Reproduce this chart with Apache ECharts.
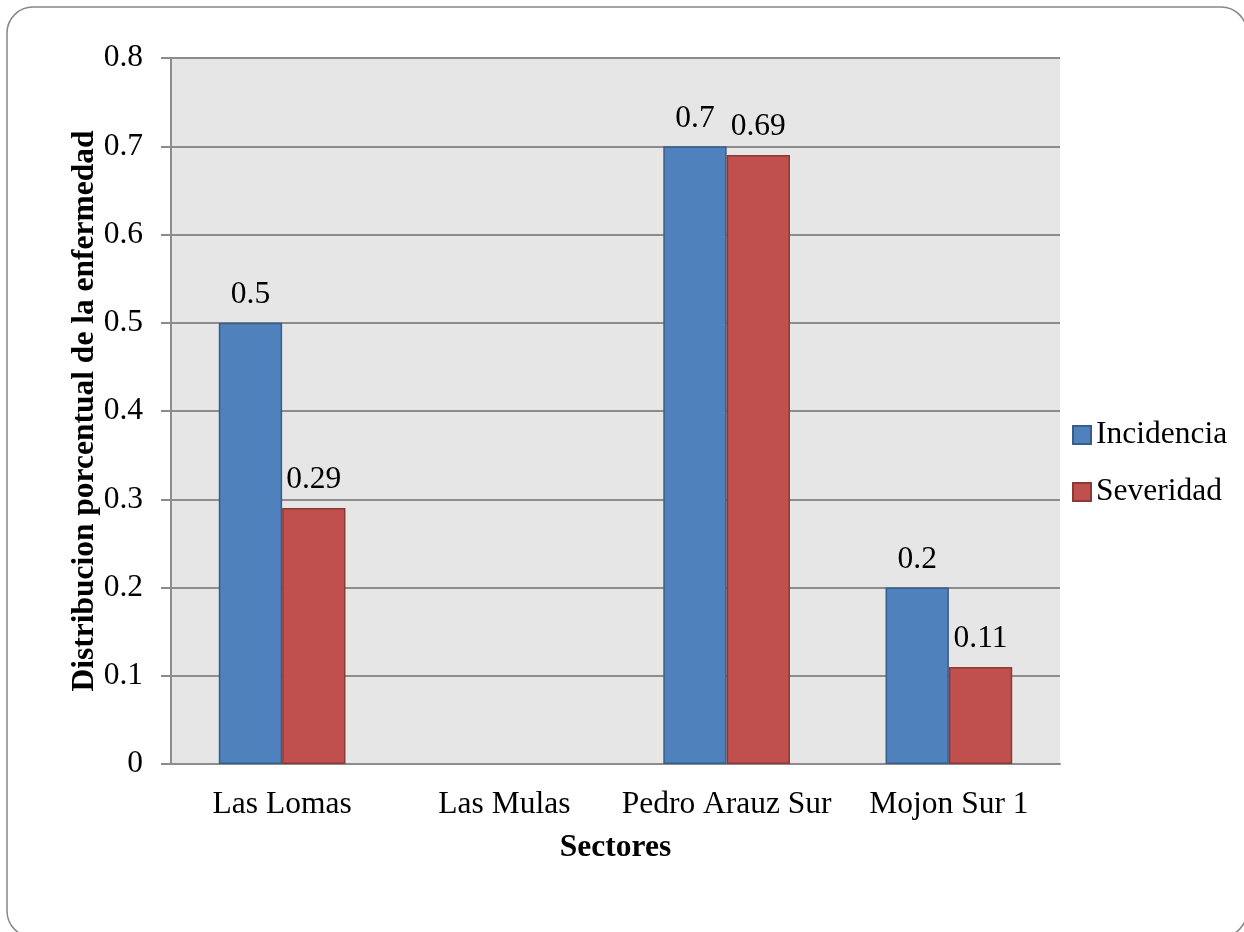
<!DOCTYPE html>
<html>
<head>
<meta charset="utf-8">
<script src="https://cdn.jsdelivr.net/npm/echarts@6/dist/echarts.min.js"></script>
<style>
  html, body { margin: 0; padding: 0; background: #ffffff; }
  #chart { width: 1244px; height: 932px; }
</style>
</head>
<body>
<div id="chart"></div>
<script>
// Sectors and disease distribution values
const sectores = ['Las Lomas', 'Las Mulas', 'Pedro Arauz Sur', 'Mojon Sur 1'];
const incidencia = [0.5, null, 0.7, 0.2];
const severidad = [0.29, null, 0.69, 0.11];
const yTicks = [0, 0.1, 0.2, 0.3, 0.4, 0.5, 0.6, 0.7, 0.8];

const FONT = '"Liberation Serif", "Times New Roman", serif';
const FS = 31.5;

const chart = echarts.init(document.getElementById('chart'), null, { renderer: 'canvas' });

const labelStyle = {
  show: true,
  position: 'top',
  distance: 12,
  color: '#000',
  fontFamily: FONT,
  fontSize: FS
};

chart.setOption({
  animation: false,
  backgroundColor: '#ffffff',
  graphic: [{
    type: 'rect',
    shape: { x: 7, y: 7, width: 1240, height: 930, r: 26 },
    style: { fill: 'none', stroke: '#888888', lineWidth: 1.5 },
    silent: true,
    z: -1
  }],
  grid: {
    left: 171, top: 58, right: 184, bottom: 168,
    show: true,
    backgroundColor: '#e6e6e6',
    borderWidth: 0
  },
  legend: {
    orient: 'vertical',
    left: 1067,
    top: 414,
    itemWidth: 18,
    itemHeight: 18,
    itemGap: 25,
    icon: 'rect',
    textStyle: { fontFamily: FONT, fontSize: FS, color: '#000' },
    data: ['Incidencia', 'Severidad']
  },
  xAxis: {
    type: 'category',
    data: sectores,
    name: 'Sectores',
    nameLocation: 'middle',
    nameGap: 68,
    nameMoveOverlap: false,
    nameTextStyle: { fontFamily: FONT, fontSize: FS, fontWeight: 'bold', color: '#000' },
    axisLine: { lineStyle: { color: '#8c8c8c', width: 2 } },
    axisTick: { show: false },
    axisLabel: { interval: 0, hideOverlap: false, fontFamily: FONT, fontSize: FS, color: '#000', margin: 25 }
  },
  yAxis: {
    type: 'value',
    min: 0,
    max: 0.8,
    interval: 0.1,
    name: 'Distribucion porcentual de la enfermedad',
    nameLocation: 'middle',
    nameGap: 70,
    nameMoveOverlap: false,
    nameTextStyle: { fontFamily: FONT, fontSize: FS, fontWeight: 'bold', color: '#000' },
    axisLine: { show: true, lineStyle: { color: '#8c8c8c', width: 2 } },
    axisTick: { show: true, length: 10, lineStyle: { color: '#8c8c8c', width: 2 } },
    splitLine: { show: true, lineStyle: { color: '#8c8c8c', width: 2 } },
    axisLabel: {
      fontFamily: FONT, fontSize: FS, color: '#000', margin: 28,
      formatter: function (v) {
        const t = yTicks.find(function (k) { return Math.abs(k - v) < 1e-9; });
        return t === undefined ? '' : String(t);
      }
    }
  },
  series: [
    {
      name: 'Incidencia',
      type: 'bar',
      data: incidencia,
      barGap: '0%',
      barCategoryGap: '43%',
      itemStyle: { color: '#4f81bd', borderColor: '#385d8a', borderWidth: 1.5 },
      label: labelStyle
    },
    {
      name: 'Severidad',
      type: 'bar',
      data: severidad,
      barGap: '0%',
      barCategoryGap: '43%',
      itemStyle: { color: '#c0504d', borderColor: '#8c3836', borderWidth: 1.5 },
      label: labelStyle
    }
  ]
});
</script>
</body>
</html>
